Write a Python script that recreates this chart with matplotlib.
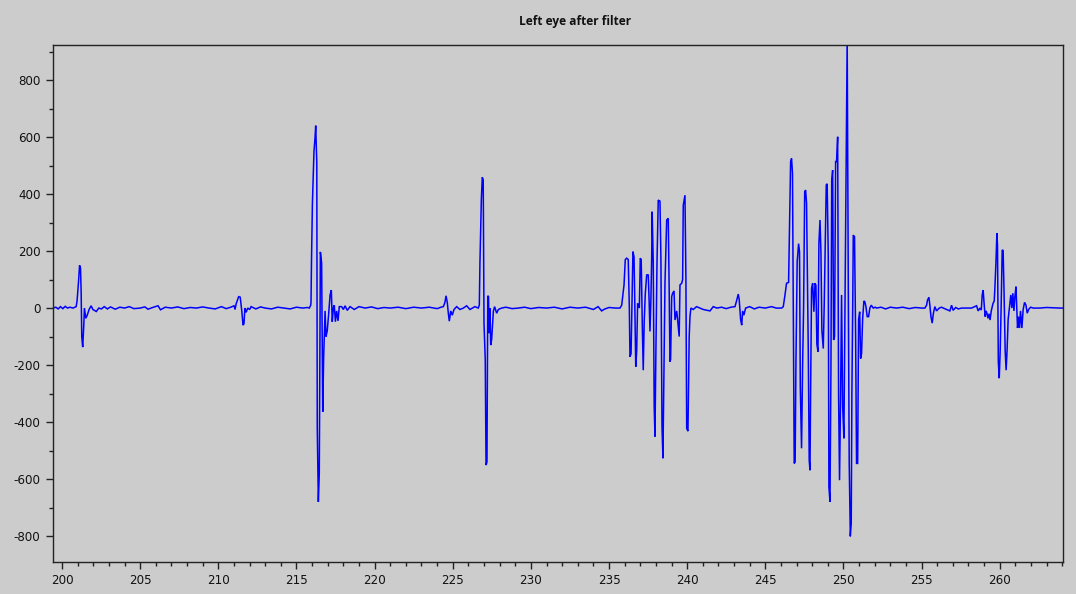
import numpy as np
import matplotlib
matplotlib.use("Agg")
import matplotlib.pyplot as plt
from matplotlib.ticker import MultipleLocator

plt.rcParams["axes.unicode_minus"] = False

# ---- signal samples (time in s, amplitude after filtering) ----
rest0_t = [199.42, 199.60, 199.75, 199.90, 200.05, 200.20, 200.35, 200.50, 200.70]
rest0_v = [0, 3, -3, 5, -2, 6, 0, 3, 0]

blink1_t = [200.90, 200.96, 201.05, 201.12, 201.18, 201.22, 201.26, 201.32, 201.39,
            201.43, 201.52, 201.61, 201.73, 201.86, 201.97, 202.19, 202.35, 202.52]
blink1_v = [5, 25, 90, 150, 140, 60, -100, -137, -60,
            0, -36, -25, -5, 8, -5, -12, 0, -3]

rest1_t = [202.70, 202.90, 203.10, 203.40, 203.70, 204.00, 204.30, 204.60, 205.00,
           205.30, 205.50, 205.80, 206.14, 206.30, 206.60, 207.00, 207.40, 207.80,
           208.20, 208.60, 209.00, 209.40, 209.80, 210.20, 210.50, 210.80]
rest1_v = [5, -3, 4, -4, 3, 0, 5, -2, 0,
           4, -4, 2, 8, -6, 3, 0, 4, -2,
           2, 0, 4, 0, -3, 5, -2, 3]

twitch1_t = [211.00, 211.07, 211.14, 211.30, 211.40, 211.50, 211.58, 211.64, 211.70,
             211.78, 211.88, 212.00]
twitch1_v = [8, -5, 15, 40, 38, -10, -60, -55, 0,
             -15, 0, -5]

rest2_t = [212.10, 212.40, 212.70, 213.00, 213.40, 213.80, 214.20, 214.60, 215.00,
           215.40, 215.70]
rest2_v = [5, -3, 4, 0, -3, 3, 0, -3, 3, 0, 2]

blink2_t = [215.82, 215.91, 215.93, 215.96, 216.02, 216.12, 216.19, 216.23, 216.30,
            216.33, 216.40, 216.46, 216.53, 216.61, 216.68, 216.74, 216.83, 216.89,
            216.97, 217.06, 217.15, 217.23, 217.29, 217.36, 217.42, 217.49, 217.57,
            217.66, 217.74, 217.89, 218.00, 218.11, 218.25, 218.43]
blink2_v = [0, 10, 20, 160, 368, 550, 600, 640, 510,
            -420, -680, -580, 197, 158, -364, -171, -10, -100,
            -80, -20, 46, 63, -48, 0, 10, -48, -10,
            -45, 5, 5, -5, 8, -8, 5]

rest3_t = [218.70, 219.00, 219.40, 219.80, 220.20, 220.60, 221.00, 221.50, 222.00,
           222.50, 223.00, 223.50, 224.00, 224.30]
rest3_v = [-5, 5, 0, 4, -2, 2, 0, 3, -2, 3, 0, 3, -2, 4]

blink3_t = [224.40, 224.50, 224.57, 224.65, 224.72, 224.78, 224.87, 224.97, 225.08,
            225.25, 225.46, 225.68, 225.89, 226.10, 226.42, 226.63, 226.70, 226.74,
            226.83, 226.89, 226.95, 227.00, 227.08, 227.13, 227.19, 227.24, 227.29,
            227.32, 227.38, 227.43, 227.49, 227.60, 227.68, 227.81, 227.92, 228.13]
blink3_v = [5, 20, 43, 20, -20, -46, -10, -25, -5,
            5, -5, 0, 8, -5, 5, 0, 10, 159,
            381, 459, 450, -54, -182, -551, -540, 43, 40,
            -88, 0, -130, -110, -10, 5, -18, -5, 0]

rest4_t = [228.40, 228.80, 229.20, 229.60, 230.00, 230.50, 231.00, 231.50, 232.00,
           232.50, 233.00, 233.50, 234.00, 234.30, 234.53, 234.70, 235.00, 235.40]
rest4_v = [3, -2, 0, 3, -2, 2, 0, 3, -3, 3, 0, 3, -5, 5, -10, -4, 2, 0]

saccades1_t = [235.70, 235.81, 235.96, 236.04, 236.13, 236.23, 236.30, 236.34, 236.41,
               236.47, 236.53, 236.60, 236.64, 236.71, 236.77, 236.83, 236.94, 237.00,
               237.06, 237.13, 237.19, 237.25, 237.32, 237.41, 237.51, 237.57, 237.62,
               237.68, 237.73, 237.76, 237.83, 237.89, 237.94, 238.00, 238.07, 238.15,
               238.26, 238.32, 238.39, 238.45, 238.52, 238.58, 238.69, 238.79, 238.85,
               238.90, 238.94, 239.01, 239.07, 239.16, 239.22, 239.33, 239.39, 239.49,
               239.54, 239.65, 239.71, 239.75, 239.86, 239.92, 239.97, 240.05, 240.13,
               240.18, 240.24, 240.39, 240.60, 240.82, 241.03, 241.46, 241.67]
saccades1_v = [0, 10, 81, 170, 175, 170, 0, -171, -160,
               10, 198, 180, 50, -206, -150, 17, 0, 175,
               170, -65, -218, -50, 50, 116, 117, 20, -82,
               30, 175, 338, 160, -345, -451, -150, 160, 379,
               375, 175, -416, -527, -200, 87, 309, 315, 60,
               -188, -180, 40, 52, 60, -42, -10, -42, -100,
               81, 87, 100, 361, 396, 100, -422, -432, -100,
               -30, 0, -5, 5, 0, -5, -10, 5]

rest5_t = [241.90, 242.20, 242.50, 242.80]
rest5_v = [0, 3, -2, 3]

twitch2_t = [243.06, 243.16, 243.27, 243.33, 243.42, 243.49, 243.55, 243.63, 243.74]
twitch2_v = [5, 25, 49, 30, -40, -60, -10, -25, 0]

rest6_t = [244.00, 244.30, 244.60, 245.00, 245.40, 245.70]
rest6_v = [5, -3, 3, 0, 5, 0]

saccades2_t = [246.05, 246.15, 246.26, 246.36, 246.49, 246.53, 246.62, 246.68, 246.74,
               246.79, 246.85, 246.91, 246.96, 247.04, 247.13, 247.19, 247.24, 247.32,
               247.39, 247.45, 247.52, 247.58, 247.64, 247.75, 247.81, 247.86, 247.90,
               247.96, 248.03, 248.11, 248.18, 248.24, 248.30, 248.37, 248.43, 248.50,
               248.56, 248.62, 248.71, 248.77, 248.84, 248.90, 248.96, 249.03, 249.07,
               249.14, 249.20, 249.25, 249.31, 249.37, 249.43, 249.50, 249.56, 249.63,
               249.69, 249.75, 249.82, 249.88, 249.95, 250.03, 250.09, 250.16, 250.24,
               250.31, 250.37, 250.44, 250.50, 250.54, 250.59, 250.63, 250.71, 250.78,
               250.84, 250.91, 250.97, 251.04, 251.10, 251.16, 251.23, 251.31, 251.37,
               251.44, 251.52, 251.61, 251.69, 251.78, 251.91, 252.03, 252.12]
saccades2_v = [0, 5, 46, 87, 90, 216, 514, 525, 473,
               0, -545, -540, -193, 162, 226, 198, -276, -492,
               -193, 0, 408, 414, 367, -147, -534, -569, -291,
               69, 87, -13, 87, 80, -126, -153, 226, 309,
               198, -77, -142, 10, 250, 432, 436, 180, -627,
               -680, -218, 449, 484, -112, -100, 514, 514, 601,
               -311, -604, -300, 46, -345, -457, -50, 444, 950,
               87, -545, -801, -755, -300, -18, 256, 250, -100,
               -545, -545, -40, -13, -177, -160, -36, 25, 22,
               5, -30, -30, 0, 10, 0, 3, 0]

rest7_t = [252.40, 252.70, 253.00, 253.40, 253.80, 254.20, 254.60, 255.00]
rest7_v = [3, -3, 3, 0, 3, -2, 2, 0]

twitch3_t = [255.21, 255.32, 255.38, 255.47, 255.53, 255.60, 255.68, 255.75, 255.85,
             255.96, 256.13, 256.28, 256.39, 256.81, 256.92, 257.02, 257.18, 257.35,
             257.56, 257.88, 258.20, 258.52, 258.62, 258.73]
twitch3_v = [0, 10, 28, 38, 10, -30, -53, -20, 5,
             -10, 0, 3, 0, -10, 10, -8, 2, -3,
             0, 0, 0, 8, -10, 0]

blink4_t = [258.82, 258.88, 258.94, 259.01, 259.07, 259.13, 259.19, 259.25, 259.32,
            259.38, 259.46, 259.57, 259.65, 259.69, 259.76, 259.82, 259.86, 259.91,
            259.97, 260.03, 260.09, 260.16, 260.22, 260.28, 260.35, 260.41, 260.47,
            260.54, 260.65, 260.71, 260.78, 260.84, 260.91, 260.97, 261.04, 261.08,
            261.14, 261.20, 261.27, 261.33, 261.42, 261.50, 261.59, 261.68, 261.76,
            261.85, 261.98, 262.14, 262.57, 262.99, 263.85, 264.05]
blink4_v = [-7, 46, 63, 10, -30, -10, -20, -36, -20,
            -42, -10, 16, 25, 69, 162, 263, 220, -188,
            -246, -150, 0, 204, 202, 50, -150, -218, -150,
            -40, 16, 46, 0, 52, -10, 40, 75, 20,
            -70, -30, -70, -10, -70, -5, 20, 10, -18,
            -5, 3, 0, 0, 2, 0, 0]

segments_t = [rest0_t, blink1_t, rest1_t, twitch1_t, rest2_t, blink2_t, rest3_t,
              blink3_t, rest4_t, saccades1_t, rest5_t, twitch2_t, rest6_t,
              saccades2_t, rest7_t, twitch3_t, blink4_t]
segments_v = [rest0_v, blink1_v, rest1_v, twitch1_v, rest2_v, blink2_v, rest3_v,
              blink3_v, rest4_v, saccades1_v, rest5_v, twitch2_v, rest6_v,
              saccades2_v, rest7_v, twitch3_v, blink4_v]

time_s = np.concatenate([np.asarray(s, float) for s in segments_t])
signal = np.concatenate([np.asarray(s, float) for s in segments_v])

title_text = "Left eye after filter"
x_limits = (199.42, 264.05)
y_limits = (-891, 923)
x_ticks = [200, 205, 210, 215, 220, 225, 230, 235, 240, 245, 250, 255, 260]
y_ticks = [-800, -600, -400, -200, 0, 200, 400, 600, 800]

# ---- figure ----
bg = "#cccccc"
fig = plt.figure(figsize=(10.76, 5.94), dpi=100, facecolor=bg)
ax = fig.add_axes([53 / 1076, 1 - 562 / 594, (1063 - 53) / 1076, (562 - 45) / 594])
ax.set_facecolor(bg)

ax.plot(time_s, signal, color="#0000ff", linewidth=1.1, solid_joinstyle="miter")

ax.set_xlim(*x_limits)
ax.set_ylim(*y_limits)
ax.set_xticks(x_ticks)
ax.set_yticks(y_ticks)
ax.xaxis.set_minor_locator(MultipleLocator(1))
ax.yaxis.set_minor_locator(MultipleLocator(100))

for side in ("top", "right", "left", "bottom"):
    ax.spines[side].set_color("#222222")
    ax.spines[side].set_linewidth(1.0)

ax.tick_params(which="major", direction="out", length=5, width=1.0,
               colors="#222222", labelsize=8.6, pad=4,
               top=False, right=False)
ax.tick_params(which="minor", direction="out", length=3, width=1.0,
               colors="#222222", top=False, right=False)
for lbl in ax.get_xticklabels() + ax.get_yticklabels():
    lbl.set_color("#111111")

fig.text(575 / 1076, 1 - 22 / 594, title_text, ha="center", va="center",
         fontsize=8.6, fontweight="bold", family=["Open Sans", "DejaVu Sans"],
         color="#111111")

fig.savefig("out.png", dpi=100, facecolor=bg)
